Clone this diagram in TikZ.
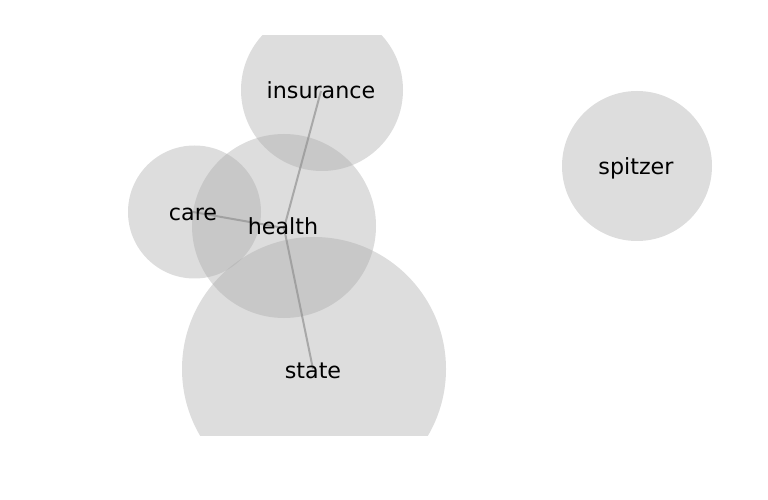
\documentclass[tikz,border=0pt]{standalone}
\usepackage{fontspec}
\setmainfont{DejaVu Sans}
\begin{document}
\begin{tikzpicture}[x=1bp,y=-1bp,
  bubble/.style={fill={rgb,255:red,169;green,169;blue,169},fill opacity=0.4,draw=none},
  link/.style={draw={rgb,255:red,140;green,140;blue,140},draw opacity=0.65,line width=2bp},
  word/.style={inner sep=0pt,anchor=base,font=\fontsize{22.3}{26}\selectfont,text=black}]
\useasboundingbox (0,0) rectangle (768,500);
\begin{scope}
\clip (0,36) rectangle (768,435);
\fill[bubble] (322,90) circle (81);
\fill[bubble] (194.5,212) circle (66.5);
\fill[bubble] (284,226) circle (92);
\fill[bubble] (314,369) circle (132);
\fill[bubble] (637,166) circle (75);
\coordinate (ci) at (321,91);
\coordinate (cc) at (193,212);
\coordinate (ch) at (284,228);
\coordinate (cs) at (313,369);
\draw[link] (ci) -- (ch);
\draw[link] (cc) -- (ch);
\draw[link] (cs) -- (ch);
\end{scope}
\node[word] (insurance) at (321,99) {insurance};
\node[word] (care) at (193,221) {care};
\node[word] (health) at (283,235) {health};
\node[word] (state) at (313,378) {state};
\node[word] (spitzer) at (636,175) {spitzer};
\end{tikzpicture}
\end{document}
